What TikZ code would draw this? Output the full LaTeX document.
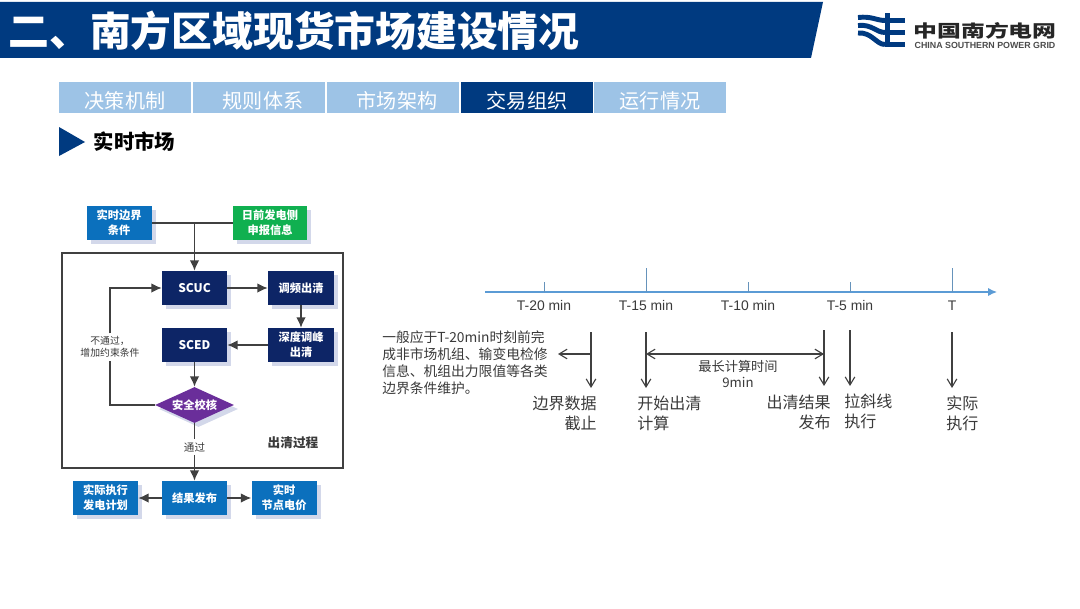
\documentclass[tikz,border=0pt]{standalone}
\usepackage{fontspec}
\usepackage{xcolor}
\usepackage{graphicx}
\setmainfont{Noto Sans CJK SC}
\newfontfamily\arialface{Liberation Sans}
\usetikzlibrary{arrows.meta,positioning,calc,shapes.geometric,shadows}
\definecolor{Navy}{HTML}{003A80}
\definecolor{TabBlue}{HTML}{9DC3E6}
\definecolor{BoxBlue}{HTML}{0B70BD}
\definecolor{BoxGreen}{HTML}{10B050}
\definecolor{BoxNavy}{HTML}{0D2566}
\definecolor{BoxPurple}{HTML}{6A2E9A}
\definecolor{Shade}{HTML}{D3D8EA}
\definecolor{Wire}{HTML}{404040}
\definecolor{Axis}{HTML}{5B9BD5}
\definecolor{Ink}{HTML}{3A3A3A}

\begin{document}
\begin{tikzpicture}[tab/.style={minimum width=3.3cm,minimum height=0.775cm,inner sep=0pt,text height=0.58cm,text depth=0.06cm,text=white,fill=TabBlue,font=\fontsize{14.3}{16}\selectfont},flowbox/.style={minimum width=1.625cm,minimum height=0.85cm,inner sep=0pt,align=center,text=white,font=\fontsize{8}{10.8}\selectfont\bfseries,drop shadow={shadow xshift=0.1cm,shadow yshift=-0.1cm,fill=Shade,opacity=1}},flow/.style={-{Latex[length=2.6mm,width=2.4mm]},line width=1pt,draw=Wire},plainflow/.style={line width=1pt,draw=Wire},timelabel/.style={font=\arialface\fontsize{9.9}{12}\selectfont,text=Ink},stage/.style={inner sep=0pt,align=left,text=Ink,font=\fontsize{11.4}{14.2}\selectfont},pointer/.style={-{Straight Barb[length=2mm,width=2.4mm]},line width=0.8pt,draw=Wire}]
\useasboundingbox (0,0) rectangle (27,15.2);
\fill[white] (0,0) rectangle (27,15.2);
\fill[Navy] (0,15.15) -- (20.575,15.15) -- (20.275,13.75) -- (0,13.75) -- cycle;
\node[text=white,inner sep=0pt,font=\fontsize{29}{32}\selectfont\bfseries] (Title) at (7.35,14.425) {二、南方区域现货市场建设情况};
\draw[Navy,line width=3.5pt] (21.45,14.7625) .. controls (21.8,14.8) and (21.9,14.69) .. (22.125,14.6875);
\draw[Navy,line width=3.5pt] (21.45,14.5625) .. controls (21.8,14.6) and (21.9,14.39) .. (22.125,14.3875);
\draw[Navy,line width=3.5pt] (21.45,14.375) .. controls (21.8,14.4) and (21.9,14.09) .. (22.125,14.0875);
\fill[Navy] (22.125,14.875) rectangle (22.25,14.025);
\draw[Navy,line width=3.5pt] (22.25,14.6875) -- (22.625,14.6875);
\draw[Navy,line width=3.5pt] (22.25,14.3875) -- (22.625,14.3875);
\draw[Navy,line width=3.5pt] (22.25,14.0875) -- (22.625,14.0875);
\node[inner sep=0pt,text=black!85,font=\fontsize{17}{20}\selectfont\bfseries] (LogoCn) at (24.625,14.4375) {\scalebox{1}[0.72]{中国南方电网}};
\node[inner sep=0pt,text=black!70,font=\arialface\fontsize{6.3}{7}\selectfont\bfseries] (LogoEn) at (24.625,14.0625) {CHINA SOUTHERN POWER GRID};
\node[tab] (TabDecide) at (3.125,12.76) {决策机制};
\node[tab] (TabRule) at (6.475,12.76) {\hspace*{0.2cm}规则体系};
\node[tab] (TabFrame) at (9.825,12.76) {\hspace*{0.2cm}市场架构};
\node[tab,fill=Navy] (TabTrade) at (13.175,12.76) {交易组织};
\node[tab] (TabRun) at (16.5,12.76) {运行情况};
\fill[Navy] (1.475,12.025) -- (2.125,11.65) -- (1.475,11.3) -- cycle;
\node[inner sep=0pt,text=black,font=\fontsize{14.5}{16}\selectfont\bfseries] (Section) at (3.36,11.65) {实时市场};
\node[draw=Wire,line width=1pt,minimum width=7.025cm,minimum height=5.375cm,inner sep=0pt] (Frame) at (5.0625,6.1875) {};
\node[flowbox,fill=BoxBlue] (RealBound) at (2.98,9.625) {实时边界\\条件};
\node[flowbox,fill=BoxGreen,minimum width=1.85cm] (DayAhead) at (6.75,9.625) {日前发电侧\\申报信息};
\node[flowbox,fill=BoxNavy,font=\fontsize{8.5}{12}\selectfont\bfseries] (SCUC) at (4.8625,8) {SCUC};
\node[flowbox,fill=BoxNavy,minimum width=1.65cm] (Regulate) at (7.525,8) {调频出清};
\node[flowbox,fill=BoxNavy,font=\fontsize{8.5}{12}\selectfont\bfseries] (SCED) at (4.8625,6.575) {SCED};
\node[flowbox,fill=BoxNavy,minimum width=1.65cm] (DeepPeak) at (7.525,6.575) {深度调峰\\出清};
\node[flowbox,diamond,fill=BoxPurple,minimum width=1.975cm,minimum height=0.9cm,aspect=2.2] (Check) at (4.8625,5.075) {安全校核};
\node[flowbox,fill=BoxBlue] (Result) at (4.8625,2.75) {结果发布};
\node[flowbox,fill=BoxBlue] (Plan) at (2.6375,2.75) {实际执行\\发电计划};
\node[flowbox,fill=BoxBlue] (Price) at (7.1,2.75) {实时\\节点电价};
\node[inner sep=2pt,fill=white,text=Ink,align=center,font=\fontsize{7}{8.6}\selectfont] (Fail) at (2.75,6.525) {不通过，\\增加约束条件};
\node[inner sep=2pt,fill=white,text=Ink,font=\fontsize{7.5}{9}\selectfont] (Pass) at (4.8625,4.025) {通过};
\node[inner sep=0pt,text=Ink,font=\fontsize{9}{11}\selectfont\bfseries] (ClearText) at (7.325,4.125) {出清过程};
\draw[plainflow] (RealBound) -- (DayAhead);
\draw[flow] (SCUC |- RealBound) -- (SCUC);
\draw[flow] (SCUC) -- (Regulate);
\draw[flow] (Regulate) -- (DeepPeak);
\draw[flow] (DeepPeak) -- (SCED);
\draw[flow] (SCED) -- (Check);
\draw[plainflow] (Check.west) -| (Fail.south);
\draw[flow] (Fail.north) |- (SCUC.west);
\draw[plainflow] (Check.south) -- (Pass.north);
\draw[flow] (Pass.south) -- (Result.north);
\draw[flow] (Result) -- (Plan);
\draw[flow] (Result) -- (Price);
\coordinate (AxisStart) at (12.125,7.9);
\coordinate (AxisEnd) at (24.925,7.9);
\draw[-{Latex[length=2.2mm,width=2mm]},line width=0.9pt,draw=Axis] (AxisStart) -- (AxisEnd);
\node[timelabel] (T20) at (13.6,7.55) {T-20 min};
\node[timelabel] (T15) at (16.15,7.55) {T-15 min};
\node[timelabel] (T10) at (18.7,7.55) {T-10 min};
\node[timelabel] (T5) at (21.25,7.55) {T-5 min};
\node[timelabel] (T0) at (23.8,7.55) {T};
\draw[Axis!70!gray,line width=0.6pt] (T20 |- AxisStart) -- ++(0,0.25);
\draw[Axis!70!gray,line width=0.6pt] (T15 |- AxisStart) -- ++(0,0.6);
\draw[Axis!70!gray,line width=0.6pt] (T10 |- AxisStart) -- ++(0,0.25);
\draw[Axis!70!gray,line width=0.6pt] (T5 |- AxisStart) -- ++(0,0.25);
\draw[Axis!70!gray,line width=0.6pt] (T0 |- AxisStart) -- ++(0,0.6);
\node[inner sep=0pt,align=left,text=Ink,anchor=west,font=\fontsize{9.8}{12}\selectfont] (Note) at (9.55,6.125) {一般应于T-20min时刻前完\\成非市场机组、输变电检修\\信息、机组出力限值等各类\\边界条件维护。};
\node[stage,anchor=east,align=right] (Cutoff) at (14.925,4.875) {边界数据\\截止};
\node[stage,anchor=west] (Start) at (15.925,4.875) {开始出清\\计算};
\node[stage,anchor=east,align=right] (Publish) at (20.775,4.9) {出清结果\\发布};
\node[stage,anchor=west] (Ramp) at (21.1,4.925) {拉斜线\\执行};
\node[stage,anchor=west] (Execute) at (23.65,4.875) {实际\\执行};
\node[inner sep=0pt,align=center,text=Ink,font=\fontsize{9.4}{11.4}\selectfont] (MaxTime) at (18.45,5.85) {最长计算时间\\9min};
\coordinate (CutTop) at (14.775,6.9);
\coordinate (CutEnd) at (14.775,5.5);
\coordinate (CutMid) at (14.775,6.35);
\coordinate (NoteTip) at (13.95,6.35);
\coordinate (StartTop) at (16.15,6.9);
\coordinate (StartEnd) at (16.15,5.5);
\coordinate (StartMid) at (16.15,6.35);
\coordinate (PubTop) at (20.6,6.95);
\coordinate (PubEnd) at (20.6,5.55);
\coordinate (PubMid) at (20.6,6.35);
\coordinate (RampTop) at (21.25,6.95);
\coordinate (RampEnd) at (21.25,5.55);
\coordinate (ExecTop) at (23.8,6.9);
\coordinate (ExecEnd) at (23.8,5.5);
\draw[pointer] (CutTop) -- (CutEnd);
\draw[pointer] (CutMid) -- (NoteTip);
\draw[pointer] (StartTop) -- (StartEnd);
\draw[pointer,{Straight Barb[length=2mm,width=2.4mm]}-{Straight Barb[length=2mm,width=2.4mm]}] (StartMid) -- (PubMid);
\draw[pointer] (PubTop) -- (PubEnd);
\draw[pointer] (RampTop) -- (RampEnd);
\draw[pointer] (ExecTop) -- (ExecEnd);
\end{tikzpicture}
\end{document}
